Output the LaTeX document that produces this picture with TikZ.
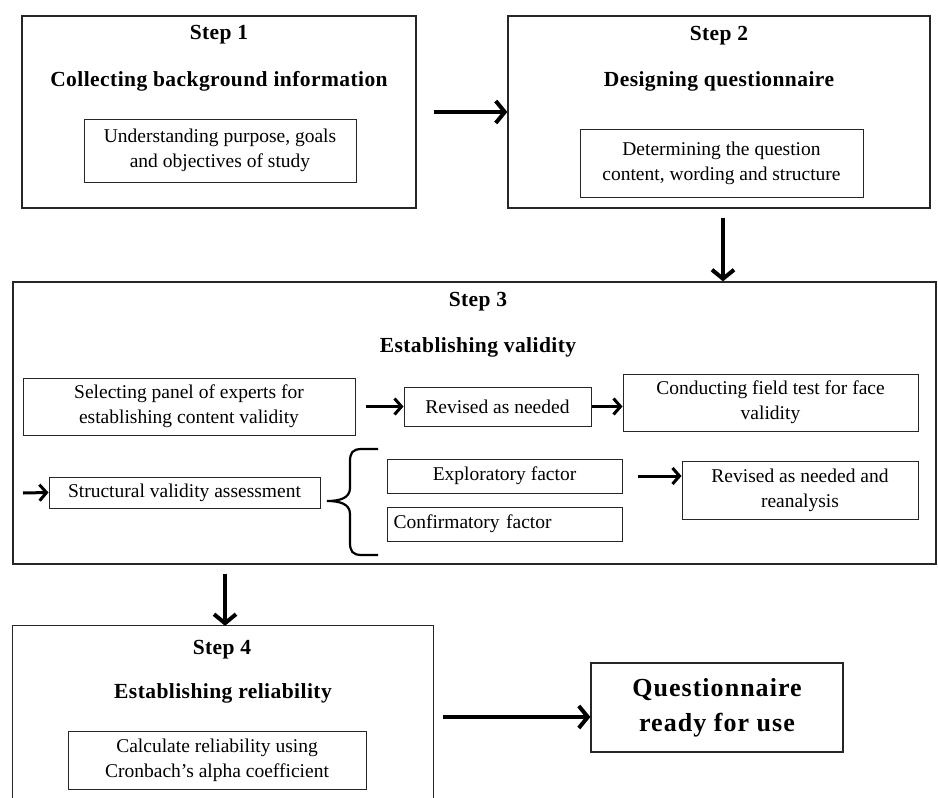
\documentclass[tikz,border=0pt]{standalone}
\usepackage{fontspec}
\setmainfont{Liberation Serif}
\usetikzlibrary{arrows.meta}
\tikzset{
  stepbox/.style={draw=black!85, line width=1.3pt, inner sep=0pt},
  innerbox/.style={draw=black!85, line width=1pt, inner sep=0pt, align=center,
    font=\fontsize{19.5}{25}\selectfont},
  headtext/.style={font=\bfseries\fontsize{21.5}{25}\selectfont\addfontfeatures{LetterSpace=2}},
  bigarrow/.style={line width=4.2pt, -{Straight Barb[length=9pt,width=22pt,line width=4pt]}},
  smallarrow/.style={line width=3pt, -{Straight Barb[length=7pt,width=16pt,line width=3pt]}}
}
\begin{document}
\begin{tikzpicture}[x=1pt,y=-1pt]
  \useasboundingbox[fill=white] (0,0) rectangle (938,798);
  % step 1
  \node[stepbox, minimum width=394, minimum height=192] (s1) at (219,112) {};
  \node[headtext] (s1title) at (219,35) {Step 1};
  \node[headtext] (s1name) at (219,81) {Collecting background information};
  \node[innerbox, minimum width=272, minimum height=63] (purpose) at (220,150.5)
    {Understanding purpose, goals\\and objectives of study};
  % step 2
  \node[stepbox, minimum width=422, minimum height=192] (s2) at (719,112) {};
  \node[headtext] (s2title) at (719,36) {Step 2};
  \node[headtext] (s2name) at (719,81) {Designing questionnaire};
  \node[innerbox, minimum width=283, minimum height=68] (content) at (721.5,163)
    {Determining the question\\content, wording and structure};
  % step 3
  \node[stepbox, minimum width=923, minimum height=282] (s3) at (474.5,423) {};
  \node[headtext] (s3title) at (478,302) {Step 3};
  \node[headtext] (s3name) at (478,347) {Establishing validity};
  \node[innerbox, minimum width=332, minimum height=57] (panel) at (189,406.5)
    {Selecting panel of experts for\\establishing content validity};
  \node[innerbox, minimum width=187, minimum height=39] (revised) at (497.5,406.5)
    {Revised as needed};
  \node[innerbox, minimum width=295, minimum height=57] (field) at (770.5,402.5)
    {Conducting field test for face\\validity};
  \node[innerbox, minimum width=271, minimum height=31] (structural) at (184.5,492.5)
    {Structural validity assessment};
  \node[innerbox, minimum width=235, minimum height=34] (explor) at (504.5,476)
    {Exploratory factor};
  \node[innerbox, minimum width=235, minimum height=34, text width=222, align=left] (confirm) at (504.5,524)
    {Confirmatory factor};
  \node[innerbox, minimum width=236, minimum height=58] (reanalysis) at (800,490)
    {Revised as needed and\\reanalysis};
  \coordinate (instruct) at (23,493);
  % step 4
  \node[minimum width=420, minimum height=172, inner sep=0pt] (s4) at (223,712) {};
  \draw[black!85, line width=1.3pt] (s4.south west) -- (s4.north west)
    -- (s4.north east) -- (s4.south east);
  \node[headtext] (s4title) at (222,650) {Step 4};
  \node[headtext] (s4name) at (223,693) {Establishing reliability};
  \node[innerbox, minimum width=298, minimum height=58] (cronbach) at (217,760)
    {Calculate reliability using\\Cronbach's alpha coefficient};
  \node[stepbox, line width=1.2pt, minimum width=252, minimum height=89, align=center,
    font=\bfseries\fontsize{26}{35}\selectfont\addfontfeatures{LetterSpace=4}] (ready) at (717,707.5)
    {Questionnaire\\ready for use};
  % arrows
  \draw[bigarrow, shorten <=17pt] (s1.east) -- (s2.west);
  \draw[bigarrow, shorten <=9pt] ([xshift=4pt]s2.south) -- ([xshift=4pt]s2.south |- s3.north);
  \draw[bigarrow, shorten <=9pt] ([xshift=2pt]s4.north |- s3.south) -- ([xshift=2pt]s4.north);
  \draw[bigarrow, shorten <=10pt] ([yshift=-5pt]s4.east) -- ([yshift=-5pt]s4.east -| ready.west);
  \draw[smallarrow, shorten <=10pt] (panel.east) -- (revised.west);
  \draw[smallarrow] (revised.east) -- (revised.east -| field.west);
  \draw[smallarrow] (instruct) -- (structural.west);
  \draw[smallarrow, shorten <=15pt] (explor.east) -- (explor.east -| reanalysis.west);
  % brace
  \draw[line width=2.2pt] (378,449) -- (362,449) .. controls (352,449) and (350,453) .. (350,462)
    -- (350,488) .. controls (350,498) and (340,501) .. (327,501)
    .. controls (340,501) and (350,504) .. (350,514) -- (350,542)
    .. controls (350,551) and (352,555) .. (362,555) -- (378,555);
\end{tikzpicture}
\end{document}
